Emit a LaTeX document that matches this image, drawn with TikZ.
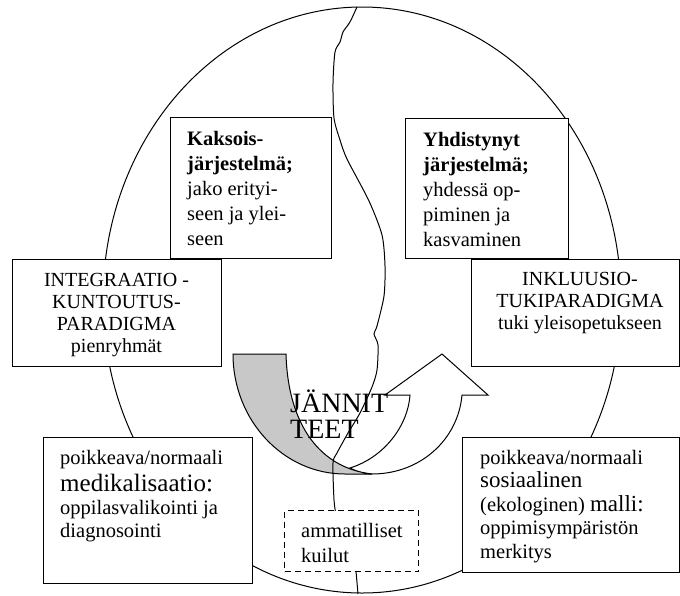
\documentclass[tikz,border=0pt]{standalone}
\usepackage{fontspec}
\setmainfont{Liberation Serif}
\definecolor{arrgray}{RGB}{200,200,200}
\begin{document}
\begin{tikzpicture}[x=1pt,y=-1pt,
  box/.style={draw, fill=white, line width=1.1pt, inner sep=0pt, anchor=north west},
  txt/.style={inner sep=0pt, anchor=base west, font=\fontsize{20.5}{25}\selectfont},
  captxt/.style={inner sep=0pt, anchor=base, font=\fontsize{20}{22}\selectfont},
  bigtxt/.style={inner sep=0pt, anchor=base west, font=\fontsize{28}{26}\selectfont},
  outline/.style={line width=1pt},
  bigfont/.style={}]
\useasboundingbox (0,0) rectangle (680,595);

% outer ellipse
\draw[outline] (362,300) ellipse [x radius=259pt, y radius=293pt];

% curved arrow: front (white) part
\filldraw[outline, fill=white, line join=miter]
  (372,474) .. controls (420,474) and (458,440) .. (462,395)
  -- (488,395) -- (442,354) -- (385,395) -- (410,395)
  .. controls (408,425) and (385,457) .. (350,468)
  .. controls (358,472) and (365,474) .. (372,474) -- cycle;
% curved arrow: back (grey) part
\filldraw[outline, fill=arrgray]
  (233,354) -- (286,354) .. controls (288,425) and (320,468) .. (372,474)
  -- (345,474) .. controls (283,474) and (233,420) .. (233,354) -- cycle;

% crack
\draw[outline] plot[smooth, tension=0.45] coordinates {
  (357,7) (351,20) (348,25) (343,32) (340,42) (335,52) (333,83) (334,118)
  (340,140) (347,159) (369,201) (382,235) (385,266) (384,296) (377,326)
  (374,334) (378,345) (377,370) (372,387) (360,413) (348,433) (337,453)
  (333,463) (334,500) (336,515)};
\draw[outline] (355,560) -- (356,571) -- (358,594);

% boxes
\node[box, minimum width=161pt, minimum height=141pt] (kaks) at (170,117) {};
\node[box, minimum width=163pt, minimum height=140pt] (yhd) at (405,118) {};
\node[box, minimum width=209pt, minimum height=107pt] (integ) at (12,259) {};
\node[box, minimum width=208pt, minimum height=107pt] (inkl) at (471,259) {};
\node[box, minimum width=209pt, minimum height=146pt] (medi) at (43,437) {};
\node[box, minimum width=217pt, minimum height=135pt] (sosi) at (462,437) {};
\node[box, dash pattern=on 6pt off 4pt, minimum width=134pt, minimum height=61pt] (amm) at (284,510) {};

% texts
\node[txt] (t-kaks) at (187,145) {\begin{tabular}[t]{@{}l@{}}\textbf{Kaksois-}\\\textbf{järjestelmä;}\\jako erityi-\\seen ja ylei-\\seen\end{tabular}};
\node[txt] (t-yhd) at (423,146) {\begin{tabular}[t]{@{}l@{}}\textbf{Yhdistynyt}\\\textbf{järjestelmä;}\\yhdessä op-\\piminen ja\\kasvaminen\end{tabular}};
\node[captxt] (t-integ) at (116.5,286) {\begin{tabular}[t]{@{}c@{}}INTEGRAATIO -\\KUNTOUTUS-\\PARADIGMA\\pienryhmät\end{tabular}};
\node[captxt] (t-inkl) at (580,285) {\begin{tabular}[t]{@{}c@{}}INKLUUSIO-\\TUKIPARADIGMA\\tuki yleisopetukseen\end{tabular}};
\node[txt, font=\fontsize{20.5}{23}\selectfont] (t-medi) at (60,464) {\begin{tabular}[t]{@{}l@{}}poikkeava/normaali\\[3pt]{\fontsize{25}{23}\selectfont medikalisaatio:}\\oppilasvalikointi ja\\diagnosointi\end{tabular}};
\node[txt, font=\fontsize{20.5}{23.5}\selectfont] (t-sosi) at (480,464) {\begin{tabular}[t]{@{}l@{}}poikkeava/normaali\\{\fontsize{23}{23.5}\selectfont sosiaalinen}\\(ekologinen) {\fontsize{23}{23.5}\selectfont malli:}\\oppimisympäristön\\merkitys\end{tabular}};
\node[txt] (t-amm) at (301,537) {\begin{tabular}[t]{@{}l@{}}ammatilliset\\kuilut\end{tabular}};
\node[bigtxt] (t-jan) at (290,412) {\begin{tabular}[t]{@{}l@{}}JÄNNIT\\TEET\end{tabular}};
\end{tikzpicture}
\end{document}
